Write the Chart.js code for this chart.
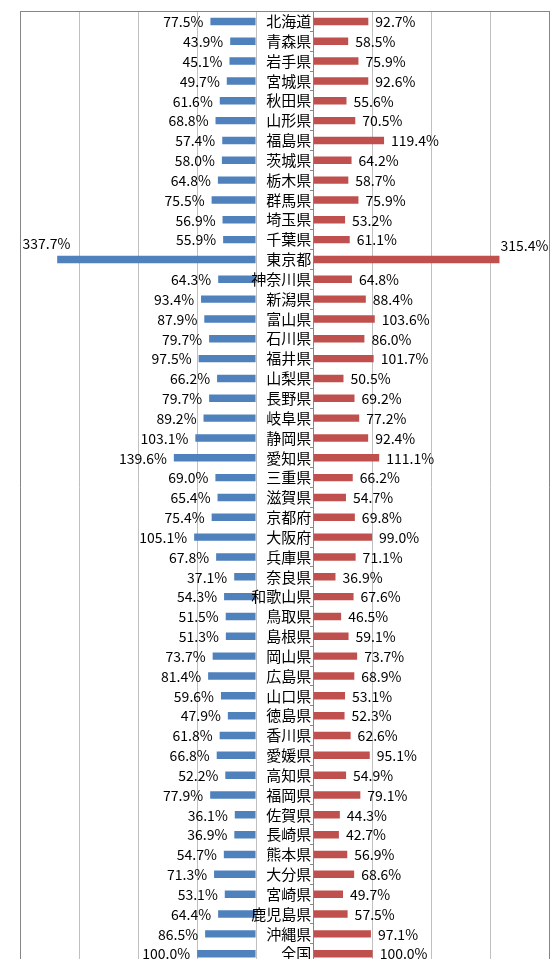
<!DOCTYPE html>
<html>
<head>
<meta charset="utf-8">
<style>
html,body{margin:0;padding:0;background:#fff;overflow:hidden;}
#wrap{position:relative;width:560px;height:959px;overflow:hidden;}
#wrap canvas{position:absolute;left:0;top:0;}
</style>
<script src="https://cdn.jsdelivr.net/npm/chart.js@4/dist/chart.umd.min.js"></script>
</head>
<body>
<div id="wrap"><canvas id="c" width="560" height="975"></canvas></div>
<script>
// ---- data ----
const prefectures = ['北海道','青森県','岩手県','宮城県','秋田県','山形県','福島県','茨城県','栃木県','群馬県','埼玉県','千葉県','東京都','神奈川県','新潟県','富山県','石川県','福井県','山梨県','長野県','岐阜県','静岡県','愛知県','三重県','滋賀県','京都府','大阪府','兵庫県','奈良県','和歌山県','鳥取県','島根県','岡山県','広島県','山口県','徳島県','香川県','愛媛県','高知県','福岡県','佐賀県','長崎県','熊本県','大分県','宮崎県','鹿児島県','沖縄県','全国'];
const leftValues = [77.5,43.9,45.1,49.7,61.6,68.8,57.4,58.0,64.8,75.5,56.9,55.9,337.7,64.3,93.4,87.9,79.7,97.5,66.2,79.7,89.2,103.1,139.6,69.0,65.4,75.4,105.1,67.8,37.1,54.3,51.5,51.3,73.7,81.4,59.6,47.9,61.8,66.8,52.2,77.9,36.1,36.9,54.7,71.3,53.1,64.4,86.5,100.0];
const rightValues = [92.7,58.5,75.9,92.6,55.6,70.5,119.4,64.2,58.7,75.9,53.2,61.1,315.4,64.8,88.4,103.6,86.0,101.7,50.5,69.2,77.2,92.4,111.1,66.2,54.7,69.8,99.0,71.1,36.9,67.6,46.5,59.1,73.7,68.9,53.1,52.3,62.6,95.1,54.9,79.1,44.3,42.7,56.9,68.6,49.7,57.5,97.1,100.0];
const gridValues = [0,100,200,300,400];

// ---- layout constants ----
const AXIS_MAX = 400;
const GAP = 98; // central label gap, in axis units
const FONT = '"Noto Sans CJK JP", "Noto Sans", sans-serif';
const DARK = '#868686';
const LIGHT = '#C0C0C0';

const labelsPlugin = {
  id: 'labelsPlugin',
  afterDatasetsDraw(chart) {
    const ctx = chart.ctx, area = chart.chartArea;
    const xs = chart.scales.x, ys = chart.scales.y;
    ctx.save();
    ctx.fillStyle = '#000';
    ctx.textBaseline = 'middle';
    // category names, right-aligned just left of the central axis
    ctx.font = '15px ' + FONT;
    ctx.textAlign = 'right';
    const axisX = xs.getPixelForValue(GAP);
    prefectures.forEach((name, i) => {
      ctx.fillText(name, axisX - 2.5, ys.getPixelForValue(i));
    });
    // value labels
    ctx.font = '14px ' + FONT;
    chart.data.datasets.forEach((ds, di) => {
      const meta = chart.getDatasetMeta(di);
      const vals = di === 0 ? leftValues : rightValues;
      meta.data.forEach((el, i) => {
        const txt = vals[i].toFixed(1) + '%';
        const w = ctx.measureText(txt).width;
        let x, y = el.y + 0.5, align;
        if (di === 0) {
          x = el.x - 7; align = 'right';
          if (x - w < area.left) { x = area.left + 2; align = 'left'; y -= 16; }
        } else {
          x = el.x + 7; align = 'left';
          if (x + w > area.right) { x = area.right - 1; align = 'right'; y -= 14; }
        }
        ctx.textAlign = align;
        ctx.fillText(txt, x, y);
      });
    });
    ctx.restore();
  }
};

new Chart(document.getElementById('c'), {
  type: 'bar',
  data: {
    labels: prefectures,
    datasets: [
      {
        data: leftValues.map(v => [-v, 0]),
        backgroundColor: '#4F81BD',
        grouped: false,
        barPercentage: 0.375,
        categoryPercentage: 1
      },
      {
        data: rightValues.map(v => [GAP, GAP + v]),
        backgroundColor: '#C0504D',
        grouped: false,
        barPercentage: 0.375,
        categoryPercentage: 1
      }
    ]
  },
  options: {
    indexAxis: 'y',
    responsive: false,
    animation: false,
    devicePixelRatio: 1,
    layout: { padding: { left: 20.5, right: 10.7, top: 11.5, bottom: 11.4 } },
    plugins: { legend: { display: false }, tooltip: { enabled: false } },
    scales: {
      x: {
        type: 'linear',
        position: 'top',
        min: -AXIS_MAX,
        max: GAP + AXIS_MAX,
        afterBuildTicks: (s) => {
          const vals = gridValues.map(v => -v).reverse().concat(gridValues.map(v => GAP + v));
          s.ticks = vals.map(v => ({ value: v }));
        },
        ticks: { display: false },
        grid: {
          drawTicks: false,
          lineWidth: 1,
          color: (c) => {
            const v = c.tick ? c.tick.value : 0;
            return (v === -AXIS_MAX || v === GAP + AXIS_MAX || v === GAP) ? DARK : LIGHT;
          }
        },
        border: { display: true, color: DARK }
      },
      y: {
        type: 'category',
        position: { x: GAP },
        offset: true,
        grid: { drawOnChartArea: false, drawTicks: true, tickLength: 3, offset: true, color: DARK },
        border: { display: true, color: DARK },
        ticks: { display: false, autoSkip: false }
      }
    }
  },
  plugins: [labelsPlugin]
});
</script>
</body>
</html>
